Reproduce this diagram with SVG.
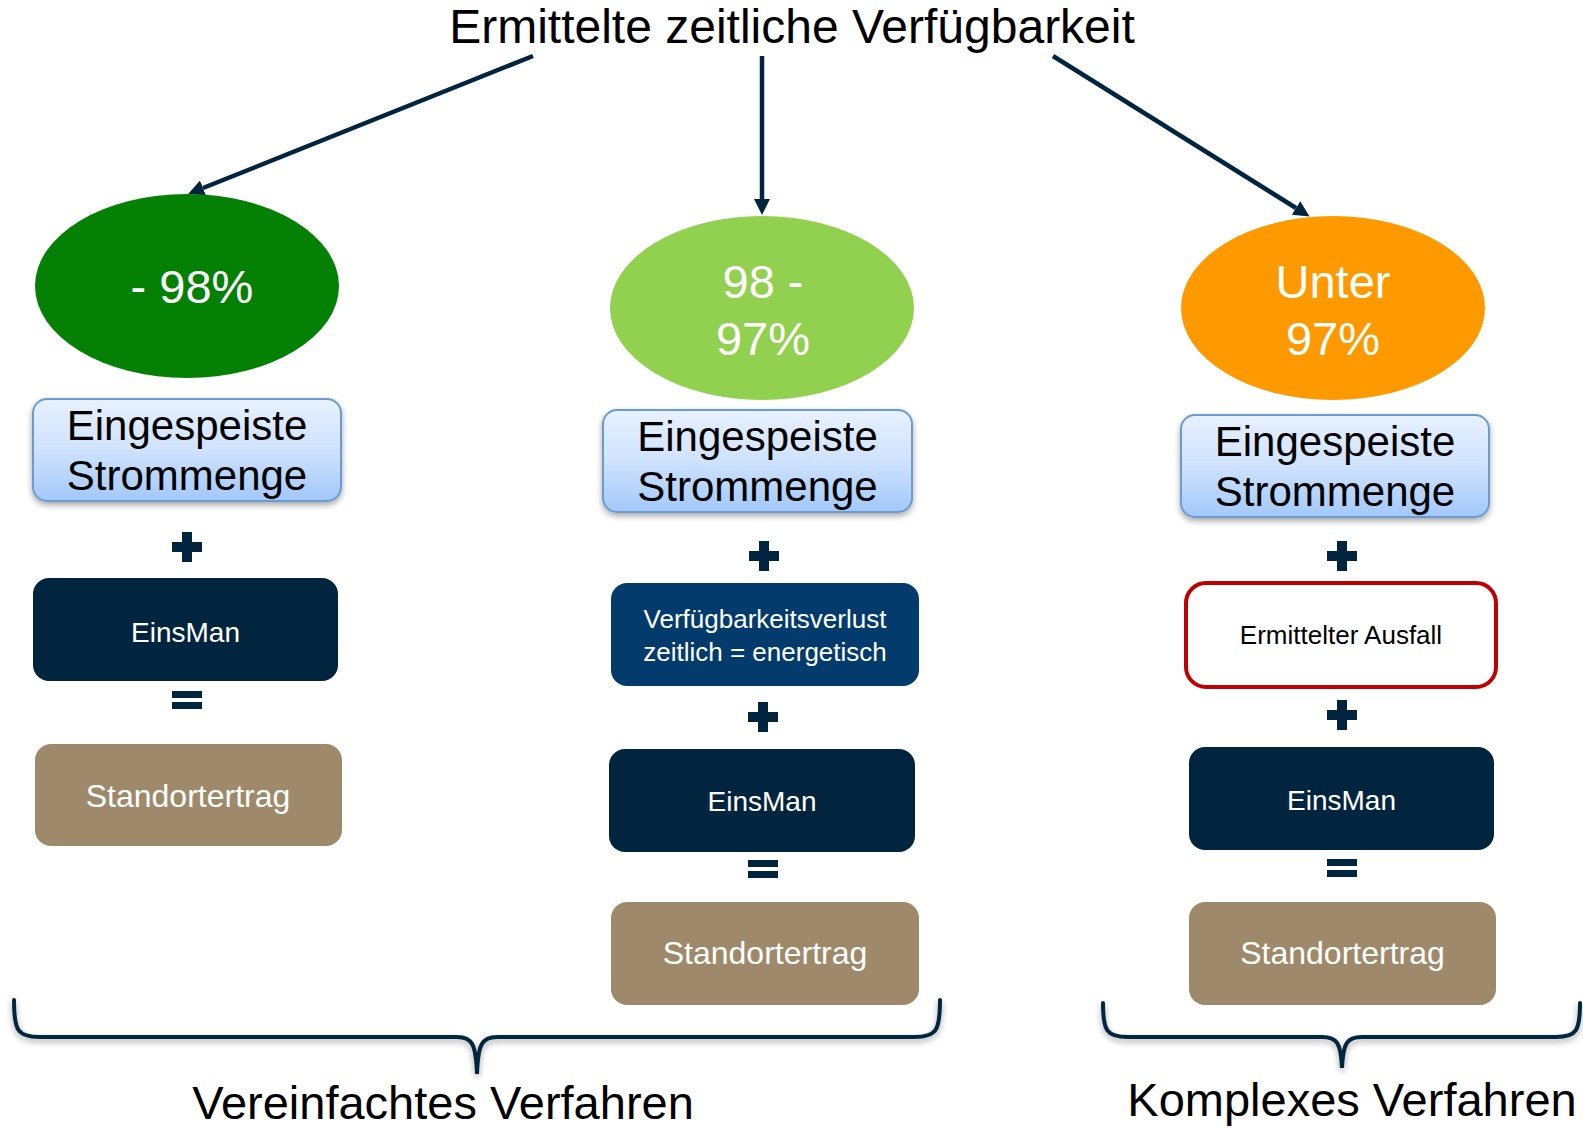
<svg xmlns="http://www.w3.org/2000/svg" width="1583" height="1130" viewBox="0 0 1583 1130">
<style>
text{font-family:"Liberation Sans",Arial,sans-serif;}
.title{font-size:48px;fill:#000;text-anchor:middle;}
.oval{font-size:47px;fill:#fff;text-anchor:middle;}
.ein{font-size:42px;fill:#000;text-anchor:middle;}
.wt{fill:#fff;text-anchor:middle;}
.bk{fill:#000;text-anchor:middle;}
.blue{fill:url(#gBlue);stroke:#6c9bd2;stroke-width:2;filter:url(#sh);}
.navy{fill:#02253f;}
.mid{fill:#023b6c;}
.tan{fill:#9e8a6b;}
.op{fill:#02253f;}
.conn{stroke:#02253f;stroke-width:4.5;fill:none;}
.brace{stroke:#02253f;stroke-width:4;fill:none;filter:url(#sh);stroke-linecap:round;}
.lbl{font-size:47px;fill:#000;text-anchor:middle;}
</style>
<defs>
<linearGradient id="gBlue" x1="0" y1="0" x2="0" y2="1">
<stop offset="0" stop-color="#e8f1ff"/>
<stop offset="0.5" stop-color="#cfe2fd"/>
<stop offset="1" stop-color="#a2c8fa"/>
</linearGradient>
<filter id="sh" x="-10%" y="-20%" width="120%" height="150%">
<feGaussianBlur in="SourceAlpha" stdDeviation="3"/>
<feOffset dx="0" dy="3" result="b"/>
<feComponentTransfer><feFuncA type="linear" slope="0.35"/></feComponentTransfer>
<feMerge><feMergeNode/><feMergeNode in="SourceGraphic"/></feMerge>
</filter>
<marker id="ah" markerUnits="userSpaceOnUse" markerWidth="17" markerHeight="18" refX="0" refY="9" orient="auto">
<path d="M0,1 L16,9 L0,17 z" fill="#02253f"/>
</marker>
<path id="plus" d="M-15,-5 h10 v-10 h10 v10 h10 v10 h-10 v10 h-10 v-10 h-10 z"/>
<g id="eq"><rect x="-15" y="-9" width="30" height="7"/><rect x="-15" y="2" width="30" height="7"/></g>
</defs>

<g id="title"><text class="title" x="792" y="43">Ermittelte zeitliche Verfügbarkeit</text></g>

<g id="connectors">
<line class="conn" x1="533" y1="56" x2="203" y2="188" marker-end="url(#ah)"/>
<line class="conn" x1="762" y1="56" x2="762" y2="199" marker-end="url(#ah)"/>
<line class="conn" x1="1053" y1="56" x2="1296" y2="208" marker-end="url(#ah)"/>
</g>

<g id="oval-green"><ellipse cx="187" cy="286" rx="152" ry="92" fill="#048004"/><text class="oval" x="192" y="303">- 98%</text></g>
<g id="oval-lightgreen"><ellipse cx="762" cy="308" rx="152" ry="92" fill="#92d050"/><text class="oval" x="763" y="298">98 -</text><text class="oval" x="763" y="355">97%</text></g>
<g id="oval-orange"><ellipse cx="1333" cy="308" rx="152" ry="92" fill="#fe9a00"/><text class="oval" x="1333" y="298">Unter</text><text class="oval" x="1333" y="355">97%</text></g>

<g id="left-ein"><rect class="blue" x="33" y="399" width="308" height="102" rx="14"/><text class="ein" x="187" y="440">Eingespeiste</text><text class="ein" x="187" y="490">Strommenge</text></g>
<g id="left-plus"><use href="#plus" x="187" y="547" class="op"/></g>
<g id="left-einsman"><rect class="navy" x="33" y="578" width="305" height="103" rx="16"/><text class="wt" x="185.5" y="642" font-size="28">EinsMan</text></g>
<g id="left-eq"><use href="#eq" x="187" y="700" class="op"/></g>
<g id="left-standort"><rect class="tan" x="35" y="744" width="307" height="102" rx="16"/><text class="wt" x="188" y="807" font-size="32">Standortertrag</text></g>

<g id="mid-ein"><rect class="blue" x="603" y="410" width="309" height="102" rx="14"/><text class="ein" x="757.5" y="451">Eingespeiste</text><text class="ein" x="757.5" y="501">Strommenge</text></g>
<g id="mid-plus1"><use href="#plus" x="764" y="556" class="op"/></g>
<g id="mid-verlust"><rect class="mid" x="611" y="583" width="308" height="103" rx="16"/><text class="wt" x="765" y="628" font-size="26">Verfügbarkeitsverlust</text><text class="wt" x="765" y="661" font-size="26">zeitlich = energetisch</text></g>
<g id="mid-plus2"><use href="#plus" x="763" y="717" class="op"/></g>
<g id="mid-einsman"><rect class="navy" x="609" y="749" width="306" height="103" rx="16"/><text class="wt" x="762" y="811" font-size="28">EinsMan</text></g>
<g id="mid-eq"><use href="#eq" x="763" y="869" class="op"/></g>
<g id="mid-standort"><rect class="tan" x="611" y="902" width="308" height="103" rx="16"/><text class="wt" x="765" y="964" font-size="32">Standortertrag</text></g>

<g id="right-ein"><rect class="blue" x="1181" y="415" width="308" height="102" rx="14"/><text class="ein" x="1335" y="456">Eingespeiste</text><text class="ein" x="1335" y="506">Strommenge</text></g>
<g id="right-plus1"><use href="#plus" x="1342" y="556" class="op"/></g>
<g id="right-ausfall"><rect x="1186" y="583" width="310" height="104" rx="20" fill="#fff" stroke="#c00000" stroke-width="4"/><text class="bk" x="1341" y="644" font-size="26">Ermittelter Ausfall</text></g>
<g id="right-plus2"><use href="#plus" x="1342" y="715" class="op"/></g>
<g id="right-einsman"><rect class="navy" x="1189" y="747" width="305" height="103" rx="16"/><text class="wt" x="1341.5" y="810" font-size="28">EinsMan</text></g>
<g id="right-eq"><use href="#eq" x="1342" y="868" class="op"/></g>
<g id="right-standort"><rect class="tan" x="1189" y="902" width="307" height="103" rx="16"/><text class="wt" x="1342.5" y="964" font-size="32">Standortertrag</text></g>

<g id="brace-left"><path class="brace" d="M14,1000 C14,1030 17,1037 40,1037 L457,1037 C472,1037 476,1044 477,1074 C478,1044 482,1037 497,1037 L914,1037 C937,1037 940,1030 940,1000"/><text class="lbl" x="443" y="1119">Vereinfachtes Verfahren</text></g>
<g id="brace-right"><path class="brace" d="M1103,1003 C1103,1030 1106,1037 1128,1037 L1322,1037 C1337,1037 1341,1043 1342,1068 C1343,1043 1347,1037 1362,1037 L1556,1037 C1577,1037 1580,1030 1580,1003"/><text class="lbl" x="1352" y="1116">Komplexes Verfahren</text></g>
</svg>
